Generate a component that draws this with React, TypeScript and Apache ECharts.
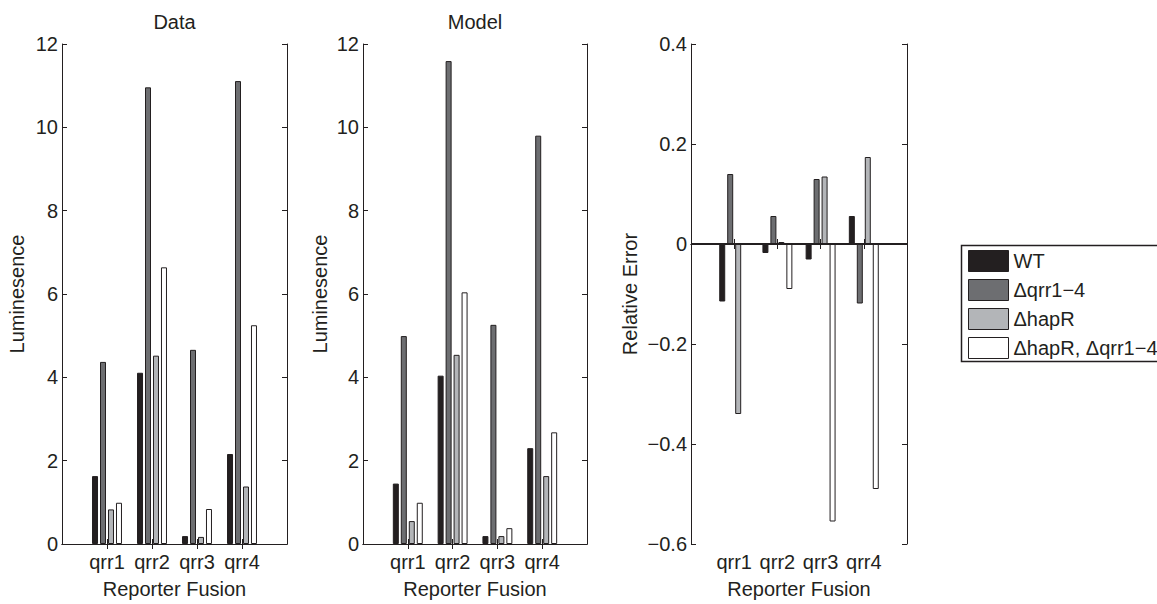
import React, { useEffect, useRef } from "react";
import * as echarts from "echarts";

const categories = ["qrr1", "qrr2", "qrr3", "qrr4"];
const strains = ["WT", "\u0394qrr1\u22124", "\u0394hapR", "\u0394hapR, \u0394qrr1\u22124"];
const strainColors = ["#231f20", "#6d6e71", "#b3b5b8", "#ffffff"];

// Panel "Data" (Luminesence)
const dataWT = [1.63, 4.11, 0.19, 2.16];
const dataQrr = [4.37, 10.96, 4.66, 11.11];
const dataHapR = [0.83, 4.52, 0.17, 1.38];
const dataBoth = [0.99, 6.64, 0.84, 5.25];

// Panel "Model" (Luminesence)
const modelWT = [1.45, 4.04, 0.19, 2.3];
const modelQrr = [4.99, 11.59, 5.26, 9.8];
const modelHapR = [0.55, 4.54, 0.19, 1.63];
const modelBoth = [0.99, 6.04, 0.38, 2.68];

// Panel 3 (Relative Error)
const errWT = [-0.115, -0.018, -0.031, 0.056];
const errQrr = [0.14, 0.056, 0.13, -0.119];
const errHapR = [-0.34, 0.004, 0.135, 0.174];
const errBoth = [0.0, -0.09, -0.555, -0.49];

const panelTitles = ["Data", "Model", ""];
const yNames = ["Luminesence", "Luminesence", "Relative Error"];
const xName = "Reporter Fusion";
const lumRange = { min: 0, max: 12, interval: 2 };
const errRange = { min: -0.6, max: 0.4, interval: 0.2 };

const FONT = "'Liberation Sans', Arial, Helvetica, sans-serif";
const INK = "#231f20";
const FS = 20;

export default function App() {
  const ref = useRef<HTMLDivElement>(null);

  useEffect(() => {
    if (!ref.current) return;
    const chart = echarts.init(ref.current, undefined, { renderer: "svg" });

    const grids = [
      { left: 62, top: 44, width: 225, height: 503 },
      { left: 363, top: 44, width: 224, height: 503 },
      { left: 691, top: 44, width: 216, height: 503 },
    ];
    const nameGaps = [35, 33, 51];
    const ranges = [lumRange, lumRange, errRange];
    const panels = [
      [dataWT, dataQrr, dataHapR, dataBoth],
      [modelWT, modelQrr, modelHapR, modelBoth],
      [errWT, errQrr, errHapR, errBoth],
    ];
    const padded = ["", ...categories, ""];
    const tickInterval = (i: number) => i >= 1 && i <= categories.length;

    const axisLine = { show: true, lineStyle: { color: INK, width: 1 } };
    const txt = { color: INK, fontFamily: FONT, fontSize: FS };
    const tick = { show: true, inside: true, length: 5, lineStyle: { color: INK } };

    const xAxes: any[] = [];
    const yAxes: any[] = [];
    grids.forEach((_, gi) => {
      xAxes.push({
        type: "category",
        gridIndex: gi,
        data: padded,
        boundaryGap: false,
        axisLine,
        axisTick: { ...tick, interval: tickInterval },
        axisLabel: { ...txt, interval: 0, margin: 8 },
        splitLine: { show: false },
        name: xName,
        nameLocation: "middle",
        nameGap: 35,
        nameTextStyle: txt,
      });
    });
    grids.forEach((_, gi) => {
      xAxes.push({
        type: "category",
        gridIndex: gi,
        position: "top",
        data: padded,
        boundaryGap: false,
        axisLine,
        axisTick: { ...tick, interval: tickInterval },
        axisLabel: { show: false },
        splitLine: { show: false },
      });
    });
    const fmt = (v: number) => {
      if (Math.abs(v) < 1e-9) return "0";
      const r = Math.round(v * 1000) / 1000;
      const s = Number.isInteger(r) ? String(r) : r.toFixed(1);
      return s.replace("-", "\u2212");
    };
    grids.forEach((_, gi) => {
      yAxes.push({
        type: "value",
        gridIndex: gi,
        min: ranges[gi].min,
        max: ranges[gi].max,
        interval: ranges[gi].interval,
        axisLine,
        axisTick: tick,
        axisLabel: { ...txt, margin: 4, formatter: fmt },
        splitLine: { show: false },
        name: yNames[gi],
        nameLocation: "middle",
        nameGap: nameGaps[gi],
        nameTextStyle: txt,
      });
    });
    grids.forEach((_, gi) => {
      yAxes.push({
        type: "value",
        gridIndex: gi,
        position: "right",
        min: ranges[gi].min,
        max: ranges[gi].max,
        interval: ranges[gi].interval,
        axisLine,
        axisTick: tick,
        axisLabel: { show: false },
        splitLine: { show: false },
      });
    });

    const series: any[] = [];
    panels.forEach((vals, gi) => {
      vals.forEach((arr, si) => {
        const s: any = {
          type: "bar",
          name: strains[si],
          xAxisIndex: gi,
          yAxisIndex: gi,
          data: ["-", ...arr, "-"],
          barWidth: 6,
          barGap: "33%",
          itemStyle: { color: strainColors[si], borderColor: INK, borderWidth: 1 },
          emphasis: { disabled: true },
        };
        if (gi === 2 && si === 0) {
          s.markLine = {
            silent: true,
            symbol: ["none", "none"],
            label: { show: false },
            lineStyle: { color: INK, width: 2, type: "solid" },
            data: [{ yAxis: 0 }],
          };
        }
        series.push(s);
      });
    });

    const graphics: any[] = [];
    grids.forEach((g, gi) => {
      if (panelTitles[gi]) {
        graphics.push({
          type: "text",
          x: g.left + g.width / 2,
          y: 22,
          style: {
            text: panelTitles[gi],
            fill: INK,
            font: `${FS}px ${FONT}`,
            textAlign: "center",
            textVerticalAlign: "middle",
          },
        });
      }
    });
    graphics.push({
      type: "rect",
      shape: { x: 961.5, y: 245.5, width: 260, height: 116 },
      style: { fill: "none", stroke: INK, lineWidth: 1.5 },
      z: 10,
    });

    chart.setOption({
      animation: false,
      backgroundColor: "#ffffff",
      textStyle: { fontFamily: FONT },
      grid: grids,
      xAxis: xAxes,
      yAxis: yAxes,
      series,
      legend: {
        data: strains,
        orient: "vertical",
        left: 968,
        top: 250,
        padding: 0,
        itemWidth: 40,
        itemHeight: 21,
        itemGap: 7,
        icon: "rect",
        selectedMode: false,
        itemStyle: { borderColor: INK, borderWidth: 1 },
        textStyle: { ...txt },
      },
      graphic: graphics,
    });

    return () => chart.dispose();
  }, []);

  return (
    <div
      ref={ref}
      style={{ position: "absolute", left: 0, top: 0, width: 1157, height: 604, background: "#fff" }}
    />
  );
}
